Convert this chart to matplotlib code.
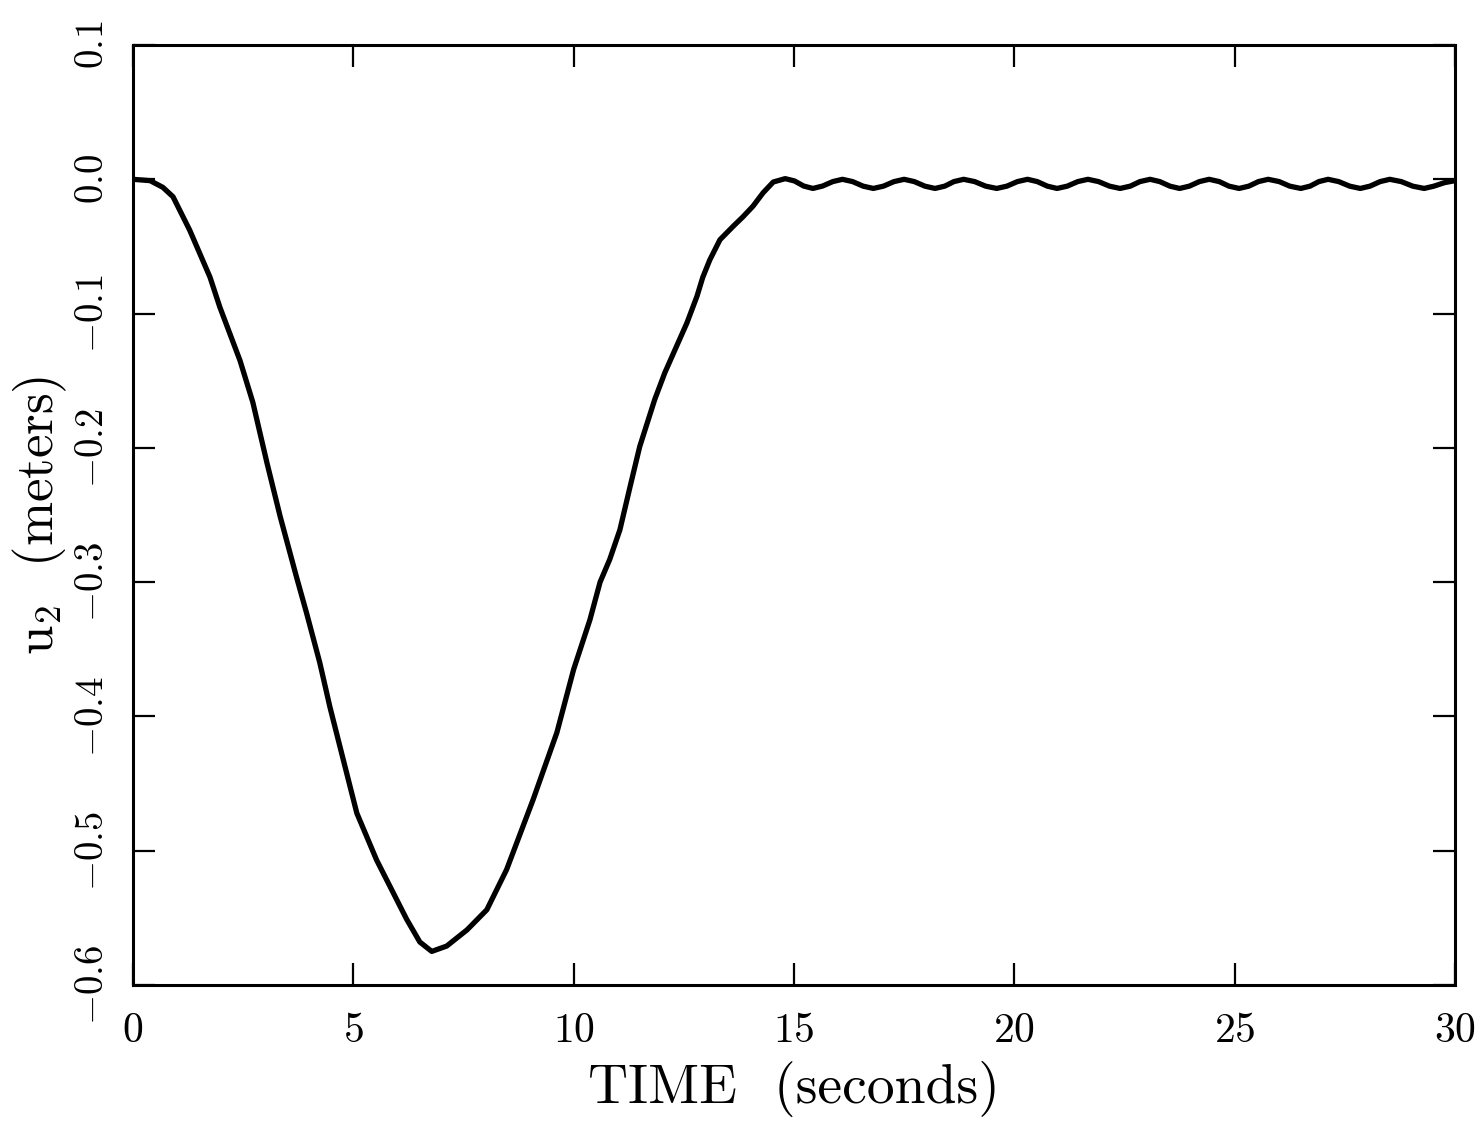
import matplotlib
matplotlib.use("Agg")
import matplotlib.pyplot as plt

plt.rcParams['font.family'] = ['cmr10', 'DejaVu Serif']
plt.rcParams['mathtext.fontset'] = 'cm'
plt.rcParams['axes.unicode_minus'] = True

# response of the second mass, u2, during the manoeuvre
t_move = [0.00, 0.39, 0.68, 0.91, 1.29, 1.75, 1.97, 2.43, 2.72, 3.04,
          3.34, 3.71, 3.94, 4.24, 4.47, 5.08, 5.53, 6.21, 6.51, 6.78,
          7.12, 7.58, 8.03, 8.48, 9.08, 9.62, 10.00, 10.15, 10.37, 10.60,
          10.82, 11.05, 11.28, 11.50, 11.84, 12.07, 12.34, 12.57, 12.80, 12.93,
          13.09, 13.32, 13.62, 13.84, 14.07, 14.30, 14.53]
u_move = [0.000, -0.001, -0.006, -0.013, -0.038, -0.073, -0.095, -0.135, -0.166, -0.211,
          -0.251, -0.296, -0.323, -0.360, -0.393, -0.472, -0.507, -0.551, -0.568, -0.575,
          -0.571, -0.559, -0.544, -0.514, -0.462, -0.412, -0.365, -0.350, -0.328, -0.300,
          -0.283, -0.261, -0.229, -0.199, -0.164, -0.144, -0.124, -0.107, -0.087, -0.073,
          -0.060, -0.045, -0.035, -0.028, -0.020, -0.010, -0.002]

# residual vibration after the move
t_rest = [14.80, 15.01, 15.22, 15.43, 15.65, 15.88, 16.10, 16.33, 16.57, 16.80,
          17.03, 17.27, 17.50, 17.73, 17.97, 18.20, 18.42, 18.63, 18.85, 19.10,
          19.35, 19.60, 19.83, 20.07, 20.30, 20.52, 20.75, 20.97, 21.20, 21.44,
          21.67, 21.91, 22.16, 22.40, 22.63, 22.85, 23.08, 23.30, 23.53, 23.75,
          23.97, 24.20, 24.42, 24.65, 24.87, 25.10, 25.32, 25.54, 25.76, 26.01,
          26.25, 26.50, 26.71, 26.91, 27.12, 27.36, 27.61, 27.85, 28.07, 28.30,
          28.52, 28.78, 29.04, 29.30, 29.52, 29.76, 30.00]
u_rest = [0.0005, -0.0012, -0.0050, -0.0068, -0.0050, -0.0017, 0.0000, -0.0017, -0.0051, -0.0068,
          -0.0051, -0.0017, 0.0000, -0.0017, -0.0051, -0.0068, -0.0051, -0.0017, 0.0000, -0.0017,
          -0.0051, -0.0068, -0.0051, -0.0017, 0.0000, -0.0017, -0.0051, -0.0068, -0.0051, -0.0017,
          0.0000, -0.0017, -0.0051, -0.0068, -0.0051, -0.0017, 0.0000, -0.0017, -0.0051, -0.0068,
          -0.0051, -0.0017, 0.0000, -0.0017, -0.0051, -0.0068, -0.0051, -0.0017, 0.0000, -0.0017,
          -0.0051, -0.0068, -0.0051, -0.0017, 0.0000, -0.0017, -0.0051, -0.0068, -0.0051, -0.0017,
          0.0000, -0.0017, -0.0051, -0.0068, -0.0051, -0.0025, -0.0010]

x_ticks = [0, 5, 10, 15, 20, 25, 30]
y_ticks = [0.1, 0.0, -0.1, -0.2, -0.3, -0.4, -0.5, -0.6]

t = t_move + t_rest
u = u_move + u_rest

fig = plt.figure(figsize=(14.82, 11.23), dpi=100)
ax = fig.add_axes([0.0897, 0.1229, 0.8921, 0.8370])

ax.plot(t, u, color='black', lw=3.8, solid_capstyle='round', solid_joinstyle='round')

ax.set_xlim(0, 30)
ax.set_ylim(-0.6, 0.1)

ax.set_xticks(x_ticks)
ax.set_xticklabels(['$%d$' % v for v in x_ticks], fontsize=30)
ax.set_yticks(y_ticks)
ax.set_yticklabels(['$%.1f$' % v if v != 0 else '$0.0$' for v in y_ticks],
                   fontsize=28, rotation=90, va='center')

ax.tick_params(direction='in', length=16, width=1.6, top=True, right=True, pad=20)
ax.tick_params(axis='y', pad=16)
for sp in ax.spines.values():
    sp.set_linewidth(2.2)

ax.set_xlabel('TIME  (seconds)', fontsize=40, labelpad=8)
ax.set_ylabel(r'$\mathrm{u}_2$  (meters)', fontsize=38, labelpad=4)

fig.savefig('out.png', dpi=100, facecolor='white')
